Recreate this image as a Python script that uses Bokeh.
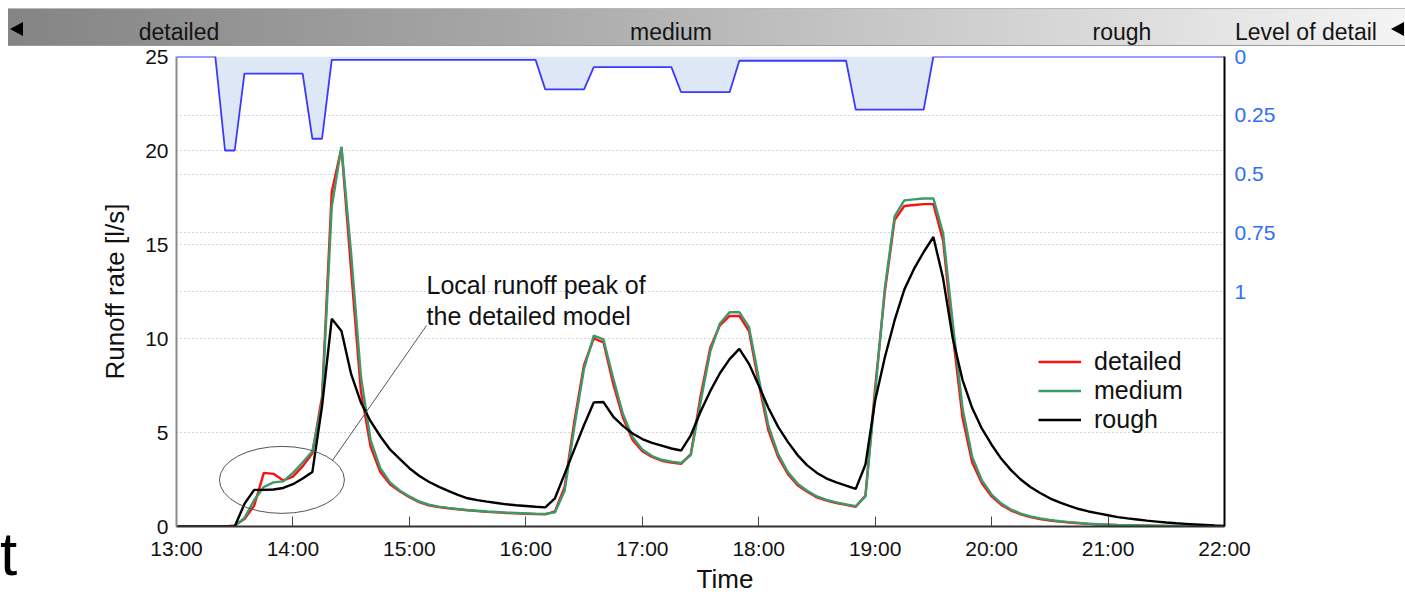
import pandas as pd
from math import pi
from bokeh.plotting import figure
from bokeh.models import (Range1d, LinearAxis, FixedTicker, Grid, Label, Div,
                          CustomJSTickFormatter, DatetimeTickFormatter, ColumnDataSource)
from bokeh.layouts import column
from bokeh.embed import file_html
from bokeh.resources import INLINE

DAY = "2000-01-01 "
FONT = "Liberation Sans"

# ---------------- data ----------------
hour_ticks = ["13:00", "14:00", "15:00", "16:00", "17:00", "18:00", "19:00", "20:00", "21:00", "22:00"]
runoff_ticks = [0, 5, 10, 15, 20, 25]
rain_ticks = [0, 0.25, 0.5, 0.75, 1]
banner_levels = ["detailed", "medium", "rough"]
series_names = ["detailed", "medium", "rough"]

# 5-minute sampling grid 13:00 ... 22:00 (109 steps)
time_grid = pd.date_range(DAY + "13:00", DAY + "22:00", freq="5min")

rain = [0, 0, 0, 0, 0, 0.40, 0.40,
        0.073, 0.073, 0.073, 0.073, 0.073, 0.073, 0.073,
        0.35, 0.35,
        0.014, 0.014, 0.014, 0.014, 0.014, 0.014, 0.014, 0.014, 0.014, 0.014, 0.014,
        0.014, 0.014, 0.014, 0.014, 0.014, 0.014, 0.014, 0.014, 0.014, 0.014, 0.014,
        0.14, 0.14, 0.14, 0.14, 0.14,
        0.045, 0.045, 0.045, 0.045, 0.045, 0.045, 0.045, 0.045, 0.045,
        0.152, 0.152, 0.152, 0.152, 0.152, 0.152,
        0.018, 0.018, 0.018, 0.018, 0.018, 0.018, 0.018, 0.018, 0.018, 0.018, 0.018, 0.018,
        0.226, 0.226, 0.226, 0.226, 0.226, 0.226, 0.226, 0.226,
        0, 0, 0, 0, 0, 0, 0, 0, 0, 0, 0, 0, 0, 0, 0, 0,
        0, 0, 0, 0, 0, 0, 0, 0, 0, 0, 0, 0, 0, 0, 0]

detailed = [0, 0, 0, 0, 0, 0, 0.05, 0.4, 1.1, 2.85, 2.8, 2.45, 2.65, 3.2, 3.9,
            6.9, 17.8, 20.15, 13.6, 7.2, 4.25, 2.9, 2.25, 1.87, 1.56, 1.3, 1.13,
            1.04, 0.97, 0.91, 0.86, 0.82, 0.78, 0.75, 0.72, 0.7, 0.68, 0.66, 0.65,
            0.8, 2.1, 5.6, 8.6, 10.0, 9.8, 7.6, 5.8, 4.6, 4.0, 3.7, 3.5, 3.4, 3.33,
            3.85, 6.9, 9.5, 10.7, 11.2, 11.2, 10.4, 7.6, 5.1, 3.7, 2.8, 2.2, 1.85,
            1.55, 1.38, 1.25, 1.15, 1.05, 1.65, 7.4, 12.5, 16.3, 17.05, 17.1, 17.15,
            17.15, 15.2, 10.2, 5.8, 3.4, 2.3, 1.6, 1.15, 0.85, 0.65, 0.5, 0.4, 0.32,
            0.26, 0.21, 0.17, 0.14, 0.11, 0.09, 0.07, 0.06, 0.05, 0.04, 0.03, 0.03,
            0.02, 0.02, 0.01, 0.01, 0.01, 0.0]

medium = [0, 0, 0, 0, 0, 0, 0.03, 0.45, 1.4, 2.1, 2.35, 2.4, 2.85, 3.4, 4.0,
          6.6, 17.0, 20.2, 14.5, 8.0, 4.6, 3.1, 2.35, 1.92, 1.6, 1.33, 1.16,
          1.06, 0.99, 0.93, 0.88, 0.84, 0.8, 0.77, 0.74, 0.72, 0.7, 0.68, 0.67,
          0.75, 1.9, 5.3, 8.4, 10.15, 9.95, 7.9, 6.0, 4.75, 4.1, 3.75, 3.55, 3.45, 3.38,
          3.8, 6.6, 9.3, 10.8, 11.4, 11.4, 10.6, 7.9, 5.35, 3.85, 2.9, 2.28, 1.9,
          1.6, 1.42, 1.28, 1.18, 1.08, 1.6, 7.1, 12.7, 16.5, 17.35, 17.4, 17.45,
          17.45, 15.6, 10.8, 6.3, 3.7, 2.45, 1.7, 1.22, 0.9, 0.69, 0.54, 0.43, 0.35,
          0.28, 0.23, 0.19, 0.15, 0.12, 0.1, 0.08, 0.07, 0.06, 0.05, 0.04, 0.03,
          0.03, 0.02, 0.02, 0.01, 0.01, 0.0]

rough = [0, 0, 0, 0, 0, 0, 0.0, 1.2, 1.95, 1.95, 1.97, 2.05, 2.25, 2.55, 2.9,
         6.4, 11.05, 10.4, 8.1, 6.6, 5.6, 4.8, 4.1, 3.6, 3.1, 2.7, 2.38,
         2.12, 1.9, 1.68, 1.5, 1.4, 1.32, 1.25, 1.18, 1.13, 1.09, 1.05, 1.02,
         1.5, 2.8, 4.1, 5.4, 6.6, 6.62, 5.85, 5.35, 4.95, 4.65, 4.45, 4.3, 4.15, 4.04,
         4.85, 6.1, 7.2, 8.15, 8.9, 9.45, 8.65, 7.5, 6.3, 5.3, 4.5, 3.8, 3.25,
         2.85, 2.55, 2.35, 2.18, 2.0, 3.3, 6.7, 9.0, 10.96, 12.6, 13.7, 14.6,
         15.4, 13.2, 10.0, 7.8, 6.3, 5.2, 4.35, 3.6, 3.0, 2.5, 2.1, 1.78, 1.5,
         1.28, 1.1, 0.93, 0.8, 0.7, 0.6, 0.5, 0.43, 0.37, 0.31, 0.26, 0.21,
         0.17, 0.14, 0.11, 0.08, 0.05, 0.03]

series_colors = ["#ff1010", "#3c9a6a", "#000000"]

# annotation anchors (time, runoff)
note_lines = ["Local runoff peak of", "the detailed model"]
note_time, note_y = ["15:08:50", "15:08:50"], [12.82, 11.22]
ellipse_time, ellipse_y = "13:54:20", 2.48
leader = dict(t0="14:20:20", y0=3.51, t1="15:08:50", y1=10.69)


def ms(hhmm):
    return pd.Timestamp(DAY + hhmm).value / 1e6


src = ColumnDataSource(dict(t=time_grid, rain=rain, detailed=detailed,
                            medium=medium, rough=rough))

p = figure(width=1405, height=548, x_axis_type="datetime",
           x_range=Range1d(ms("13:00"), ms("22:00")), y_range=Range1d(0, 25),
           output_backend="svg", toolbar_location=None, title=None,
           min_border_left=176, min_border_right=181, min_border_top=12, min_border_bottom=66,
           outline_line_color=None, background_fill_color="white",
           border_fill_color="white", border_fill_alpha=0)
p.extra_y_ranges = {"rain": Range1d(2.0, 0)}

# x axis
xa = p.xaxis[0]
xa.ticker = FixedTicker(ticks=[ms(h) for h in hour_ticks])
xa.formatter = DatetimeTickFormatter(hours="%H:%M", hourmin="%H:%M", minutes="%H:%M",
                                     minsec="%H:%M", days="%H:%M", seconds="%H:%M")
xa.minor_tick_line_color = None
xa.major_tick_in = 10
xa.major_tick_out = 0
xa.major_tick_line_color = "#444444"
xa.axis_line_color = "#333333"
xa.axis_line_width = 2
xa.major_label_text_font = FONT
xa.major_label_text_font_size = "21px"
xa.major_label_text_color = "#111111"
xa.major_label_standoff = 10

# left axis
ya = p.yaxis[0]
ya.ticker = FixedTicker(ticks=runoff_ticks)
ya.axis_line_color = "#8a8a8a"
ya.axis_line_width = 2
ya.major_tick_line_color = None
ya.minor_tick_line_color = None
ya.major_tick_out = 0
ya.major_tick_in = 0
ya.major_label_standoff = 8
ya.major_label_text_font = FONT
ya.major_label_text_font_size = "21px"
ya.major_label_text_color = "#111111"
ya.axis_label = "Runoff rate [l/s]"
ya.axis_label_text_font = FONT
ya.axis_label_text_font_size = "26px"
ya.axis_label_text_font_style = "normal"
ya.axis_label_text_color = "#111111"
ya.axis_label_standoff = 12

# right axis (rainfall, inverted)
ra = LinearAxis(y_range_name="rain", ticker=FixedTicker(ticks=rain_ticks),
                formatter=CustomJSTickFormatter(code="return tick.toString();"))
ra.axis_line_color = "#000000"
ra.axis_line_width = 2
ra.major_tick_line_color = None
ra.minor_tick_line_color = None
ra.major_tick_out = 0
ra.major_tick_in = 0
ra.major_label_standoff = 10
ra.major_label_text_font = FONT
ra.major_label_text_font_size = "21px"
ra.major_label_text_color = "#2f6ef5"
p.add_layout(ra, "right")

# grids
p.xgrid.visible = False
p.ygrid[0].ticker = FixedTicker(ticks=runoff_ticks)
p.ygrid[0].grid_line_color = "#a8a8a8"
p.ygrid[0].grid_line_dash = "1 3"
p.ygrid[0].grid_line_width = 1
rain_grid = Grid(dimension=1, ticker=FixedTicker(ticks=rain_ticks[1:]), y_range_name="rain",
                 grid_line_color="#a0a0ee", grid_line_dash="1 3", grid_line_width=1)
p.add_layout(rain_grid)

# rainfall hyetograph
p.varea(x="t", y1=0, y2="rain", source=src, y_range_name="rain",
        fill_color="#dde7f6", fill_alpha=1)
p.line(x="t", y="rain", source=src, y_range_name="rain", line_color="#3a3aff", line_width=1.8)

# runoff series
for name, col in zip(series_names, series_colors):
    p.line(x="t", y=name, source=src, line_color=col, line_width=2.4, legend_label=name)

lg = p.legend[0]
lg.location = (862, 92)
lg.label_text_font = FONT
lg.label_text_font_size = "25px"
lg.label_text_color = "#111111"
lg.glyph_width = 43
lg.glyph_height = 29
lg.label_height = 29
lg.label_standoff = 13
lg.spacing = 0
lg.padding = 0
lg.margin = 0
lg.border_line_color = None
lg.background_fill_alpha = 0

# annotation: ellipse + leader + text
p.ellipse(x=[ms(ellipse_time)], y=[ellipse_y], width=125, height=67,
          width_units="screen", height_units="screen",
          fill_color=None, line_color="#555555", line_width=1)
p.segment(x0=[ms(leader["t0"])], y0=[leader["y0"]], x1=[ms(leader["t1"])], y1=[leader["y1"]],
          line_color="#555555", line_width=1)
for txt, tt, yy in zip(note_lines, note_time, note_y):
    p.add_layout(Label(x=ms(tt), y=yy, text=txt, text_font=FONT, text_font_size="25px",
                       text_color="#111111", text_align="left", text_baseline="alphabetic"))

# right axis title (placed over the 0..1 part of the scale)
p.add_layout(Label(x=ms("22:39:40"), y=0.487, y_range_name="rain", text="Rainfall [mm/5min]",
                   angle=pi / 2, text_align="center", text_baseline="middle",
                   text_font=FONT, text_font_size="26px", text_color="#111111"))

# ---------------- banner ----------------
tri_left = ("position:absolute;left:2px;top:13px;width:0;height:0;"
            "border-top:7px solid transparent;border-bottom:7px solid transparent;"
            "border-right:13px solid #000;")
tri_right = ("position:absolute;left:1383px;top:13px;width:0;height:0;"
             "border-top:7px solid transparent;border-bottom:7px solid transparent;"
             "border-right:13px solid #000;")
span = "position:absolute;top:3px;line-height:40px;white-space:nowrap;"
centers = [171, 663, 1114]
spans = "".join(
    f'<span style="{span}left:{c}px;transform:translateX(-50%);">{lvl}</span>'
    for lvl, c in zip(banner_levels, centers))
banner_html = (
    '<div style="position:relative;width:1397px;height:38px;'
    'background:linear-gradient(to right,#848484 0%,#a6a6a6 35%,#cacaca 65%,#f4f4f4 100%);'
    'border-top:1px solid #b8b8b8;border-bottom:1px solid #9a9a9a;'
    f'font-family:\'{FONT}\';font-size:23px;color:#141414;overflow:hidden;">'
    f'<div style="{tri_left}"></div>'
    f'{spans}'
    f'<span style="{span}left:1227px;">Level of detail</span>'
    f'<div style="{tri_right}"></div>'
    '</div>')
banner = Div(text=banner_html, width=1397, height=40, margin=(8, 0, -4, 8))

# ---------------- bottom strip: x axis title and the stray "t" ----------------
bottom_html = (
    f'<div style="position:relative;width:1405px;height:62px;font-family:\'{FONT}\';color:#111;">'
    '<span style="position:absolute;left:0px;top:-7px;font-size:62px;line-height:62px;'
    'color:#000;">t</span>'
    '<span style="position:absolute;left:725px;top:36px;font-size:26px;line-height:26px;'
    'transform:translateX(-50%);white-space:nowrap;">Time</span>'
    '</div>')
bottom = Div(text=bottom_html, width=1405, height=62, margin=(-62, 0, 0, 0))

layout = column(banner, p, bottom, spacing=0)
open("out.html", "w").write(file_html(layout, INLINE))
